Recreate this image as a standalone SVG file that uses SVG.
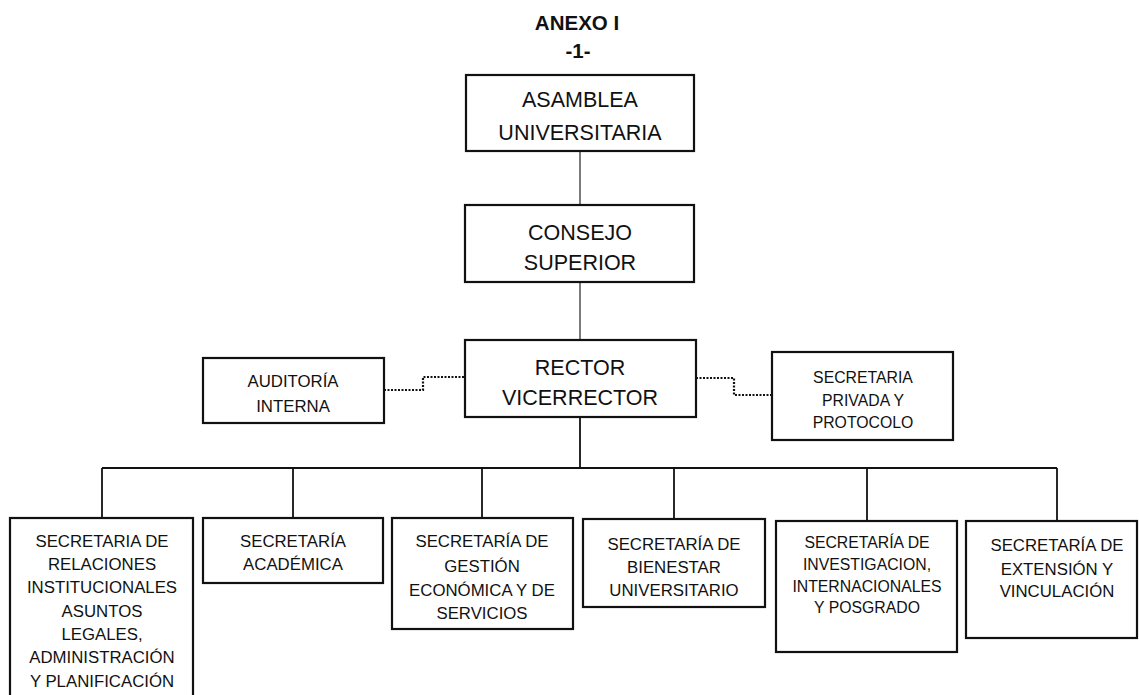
<svg xmlns="http://www.w3.org/2000/svg" width="1139" height="695" viewBox="0 0 1139 695">
<style>
.box{fill:#fff;stroke:#111;stroke-width:2.2}
.t{font-family:"Liberation Sans",Arial,sans-serif;fill:#111;text-anchor:middle}
.big{font-size:21.5px}
.mid{font-size:16.8px}
.sm{font-size:15.8px}
.title{font-family:"Liberation Sans",Arial,sans-serif;font-weight:bold;font-size:20.5px;fill:#111;text-anchor:middle}
.ln{fill:none;stroke:#111;stroke-width:1.8}
.thin{fill:none;stroke:#222;stroke-width:1.2}
.dot{fill:none;stroke:#111;stroke-width:2.2;stroke-dasharray:2 1.5}
</style>
<rect width="1139" height="695" fill="#fff"/>
<g id="title">
<text class="title" x="577" y="30">ANEXO I</text>
<text class="title" x="578" y="58">-1-</text>
</g>
<g id="connectors">
<line class="thin" x1="580" y1="151" x2="580" y2="205"/>
<line class="thin" x1="580" y1="282" x2="580" y2="340"/>
<polyline class="dot" points="384,390 423,390 423,377 465,377"/>
<polyline class="dot" points="696,378 734,378 734,395 772,395"/>
<line class="ln" x1="580" y1="417" x2="580" y2="468"/>
<line class="ln" x1="102" y1="468" x2="1057" y2="468"/>
<line class="ln" x1="102" y1="468" x2="102" y2="518"/>
<line class="ln" x1="293" y1="468" x2="293" y2="518"/>
<line class="ln" x1="482" y1="468" x2="482" y2="518"/>
<line class="ln" x1="674" y1="468" x2="674" y2="519"/>
<line class="ln" x1="867" y1="468" x2="867" y2="521"/>
<line class="ln" x1="1057" y1="468" x2="1057" y2="521"/>
</g>
<g id="asamblea">
<rect class="box" x="466" y="75" width="228" height="76"/>
<text class="t big" x="580" y="107">ASAMBLEA</text>
<text class="t big" x="580" y="140">UNIVERSITARIA</text>
</g>
<g id="consejo">
<rect class="box" x="465" y="205" width="229" height="77"/>
<text class="t big" x="580" y="240">CONSEJO</text>
<text class="t big" x="580" y="270">SUPERIOR</text>
</g>
<g id="rector">
<rect class="box" x="465" y="340" width="231" height="77"/>
<text class="t big" x="580" y="375">RECTOR</text>
<text class="t big" x="580" y="405">VICERRECTOR</text>
</g>
<g id="auditoria">
<rect class="box" x="203" y="358" width="181" height="65"/>
<text class="t mid" x="293" y="387">AUDITORÍA</text>
<text class="t mid" x="293" y="412">INTERNA</text>
</g>
<g id="privada">
<rect class="box" x="772" y="352" width="181" height="88"/>
<text class="t sm" x="863" y="383">SECRETARIA</text>
<text class="t sm" x="863" y="406">PRIVADA Y</text>
<text class="t sm" x="863" y="428">PROTOCOLO</text>
</g>
<g id="relaciones">
<rect class="box" x="10" y="518" width="183" height="185"/>
<text class="t mid" x="102" y="547">SECRETARIA DE</text>
<text class="t mid" x="102" y="570">RELACIONES</text>
<text class="t mid" x="102" y="593">INSTITUCIONALES</text>
<text class="t mid" x="102" y="617">ASUNTOS</text>
<text class="t mid" x="102" y="640">LEGALES,</text>
<text class="t mid" x="102" y="663">ADMINISTRACIÓN</text>
<text class="t mid" x="102" y="687">Y PLANIFICACIÓN</text>
</g>
<g id="academica">
<rect class="box" x="203" y="518" width="180" height="65"/>
<text class="t mid" x="293" y="547">SECRETARÍA</text>
<text class="t mid" x="293" y="570">ACADÉMICA</text>
</g>
<g id="gestion">
<rect class="box" x="392" y="518" width="181" height="111"/>
<text class="t mid" x="482" y="547">SECRETARÍA DE</text>
<text class="t mid" x="482" y="572">GESTIÓN</text>
<text class="t mid" x="482" y="596">ECONÓMICA Y DE</text>
<text class="t mid" x="482" y="619">SERVICIOS</text>
</g>
<g id="bienestar">
<rect class="box" x="583" y="519" width="182" height="88"/>
<text class="t mid" x="674" y="550">SECRETARÍA DE</text>
<text class="t mid" x="674" y="573">BIENESTAR</text>
<text class="t mid" x="674" y="596">UNIVERSITARIO</text>
</g>
<g id="investigacion">
<rect class="box" x="776" y="521" width="181" height="131"/>
<text class="t sm" x="867" y="548">SECRETARÍA DE</text>
<text class="t sm" x="867" y="570">INVESTIGACION,</text>
<text class="t sm" x="867" y="592">INTERNACIONALES</text>
<text class="t sm" x="867" y="613">Y POSGRADO</text>
</g>
<g id="extension">
<rect class="box" x="966" y="521" width="171" height="117"/>
<text class="t mid" x="1057" y="551">SECRETARÍA DE</text>
<text class="t mid" x="1057" y="575">EXTENSIÓN Y</text>
<text class="t mid" x="1057" y="597">VINCULACIÓN</text>
</g>
</svg>
